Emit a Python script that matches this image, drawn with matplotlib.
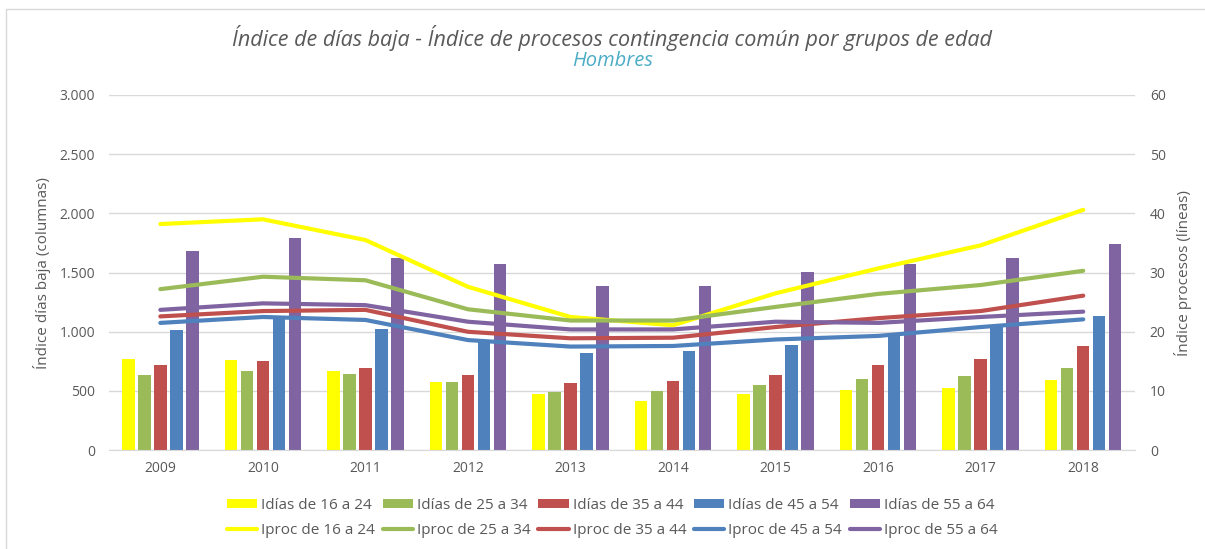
import matplotlib.pyplot as plt
import matplotlib.ticker as mticker
import numpy as np

plt.rcParams['font.family'] = ['Open Sans', 'DejaVu Sans']

years = ['2009', '2010', '2011', '2012', '2013', '2014', '2015', '2016', '2017', '2018']
grupos = ['16 a 24', '25 a 34', '35 a 44', '45 a 54', '55 a 64']
colores = ['#FFFF00', '#9BBB59', '#C0504D', '#4F81BD', '#8064A2']

# Índice días baja (columnas)
idias_16_24 = [772, 761, 671, 572, 471, 417, 471, 507, 527, 592]
idias_25_34 = [634, 671, 642, 572, 493, 499, 552, 597, 625, 690]
idias_35_44 = [718, 752, 696, 634, 564, 583, 634, 718, 772, 879]
idias_45_54 = [1014, 1127, 1023, 930, 817, 837, 888, 992, 1042, 1135]
idias_55_64 = [1682, 1789, 1626, 1572, 1389, 1389, 1507, 1572, 1626, 1741]

# Índice procesos (líneas)
iproc_16_24 = [38.2, 39.0, 35.5, 27.6, 22.5, 21.1, 26.5, 30.7, 34.6, 40.6]
iproc_25_34 = [27.2, 29.3, 28.7, 23.8, 21.9, 21.9, 24.2, 26.4, 27.9, 30.3]
iproc_35_44 = [22.6, 23.5, 23.7, 20.0, 18.9, 19.0, 20.8, 22.3, 23.5, 26.1]
iproc_45_54 = [21.5, 22.5, 22.0, 18.6, 17.5, 17.6, 18.7, 19.3, 20.8, 22.1]
iproc_55_64 = [23.7, 24.8, 24.5, 21.7, 20.4, 20.4, 21.7, 21.5, 22.5, 23.4]

idias = [idias_16_24, idias_25_34, idias_35_44, idias_45_54, idias_55_64]
iproc = [iproc_16_24, iproc_25_34, iproc_35_44, iproc_45_54, iproc_55_64]

gris = '#595959'

fig = plt.figure(figsize=(12.05, 5.49), dpi=100)
ax = fig.add_axes([0.0905, 0.180, 0.851, 0.647])
ax2 = ax.twinx()

x = np.arange(len(years))
ancho = 0.122
paso = 0.156

handles = []
for i in range(5):
    b = ax.bar(x + (i - 2) * paso, idias[i], width=ancho, color=colores[i],
               label='Idías de ' + grupos[i], zorder=2)
    l, = ax2.plot(x, iproc[i], color=colores[i], lw=3, solid_joinstyle='round',
                  solid_capstyle='round', label='Iproc de ' + grupos[i])
    handles += [b, l]

ax.set_xlim(-0.5, len(years) - 0.5)
ax.set_ylim(0, 3000)
ax2.set_ylim(0, 60)
ax.set_yticks(np.arange(0, 3001, 500))
ax2.set_yticks(np.arange(0, 61, 10))
ax.yaxis.set_major_formatter(mticker.FuncFormatter(lambda v, p: f'{int(v):,}'.replace(',', '.')))
ax.set_xticks(x)
ax.set_xticklabels(years)

ax.grid(axis='y', color='#D9D9D9', lw=1, zorder=0)
ax.set_axisbelow(True)
for a in (ax, ax2):
    for s in a.spines.values():
        s.set_visible(False)
    a.tick_params(length=0, colors=gris, labelsize=10)
ax.spines['bottom'].set_visible(True)
ax.spines['bottom'].set_color('#D9D9D9')
ax.tick_params(axis='y', pad=10)
ax2.tick_params(axis='y', pad=11)
ax.tick_params(axis='x', pad=8)

ax.set_ylabel('Índice días baja (columnas)', color=gris, fontsize=11, labelpad=6)
ax2.set_ylabel('Índice procesos (líneas)', color=gris, fontsize=11, labelpad=6)

fig.text(0.508, 0.930, 'Índice de días baja - Índice de procesos contingencia común por grupos de edad',
         ha='center', va='center', fontsize=15.5, style='italic', color=gris)
fig.text(0.508, 0.888, 'Hombres', ha='center', va='center', fontsize=14.5,
         style='italic', color='#4BACC6')

fig.legend(handles=handles, loc='lower center', bbox_to_anchor=(0.508, -0.005), ncol=5,
           frameon=False, fontsize=11, labelcolor=gris, handlelength=2.0,
           handleheight=0.5, handletextpad=0.25, columnspacing=0.5, labelspacing=0.65)

border = plt.Rectangle((0.005, -0.02), 1.2, 1.003, transform=fig.transFigure,
                       fill=False, edgecolor='#D9D9D9', lw=1)
fig.patches.append(border)

fig.savefig('out.png', dpi=100)
